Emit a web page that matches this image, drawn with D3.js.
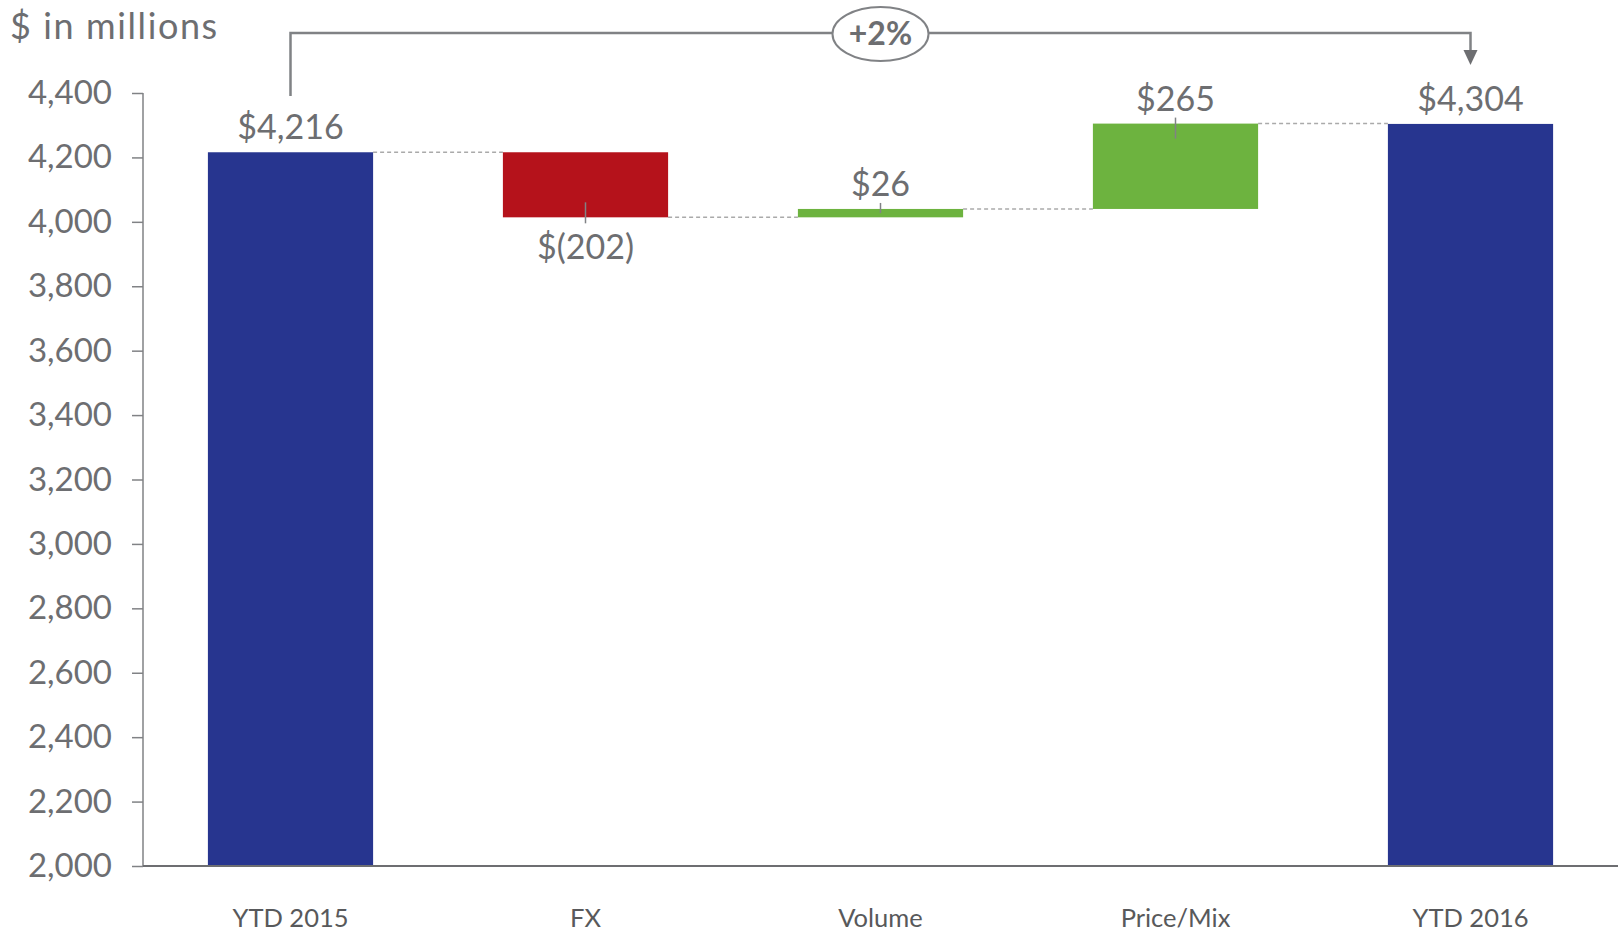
<!DOCTYPE html>
<html lang="en">
    <head>
        <meta charset="utf-8">
        <title>Waterfall</title>
        <style>
          body { margin: 0; background: #fff; }
          svg text { font-family: Lato, "Open Sans", sans-serif; fill: #6d6e71; }
          .tick text { font-size: 33px; }
          .cat { font-size: 25.5px; fill: #58595b; }
          .val { font-size: 34px; text-anchor: middle; }
          .unit { font-size: 36px; letter-spacing: 1.6px; }
          .conn { stroke: #aaa; stroke-width: 1.5; stroke-dasharray: 4,3; }
          .lead { stroke: #808285; stroke-width: 1.5; }
          .bracket { fill: none; stroke: #808285; stroke-width: 2.5; }
        </style>
        <script src="https://d3js.org/d3.v7.min.js"></script>
    </head>
    <body>
        <script type="text/javascript">
          // data
          var categories = ["YTD 2015", "FX", "Volume", "Price/Mix", "YTD 2016"];
          var values = [4216, -202, 26, 265, 4304];
          var isTotal = [true, false, false, false, true];
          var valueLabels = ["$4,216", "$(202)", "$26", "$265", "$4,304"];
          var yTicks = [2000, 2200, 2400, 2600, 2800, 3000, 3200, 3400, 3600, 3800, 4000, 4200, 4400];
          var changeLabel = "+2%";
          var unitLabel = "$ in millions";

          var colTotal = "#27358f", colUp = "#6db33f", colDown = "#b5121b";

          var w = 1624, h = 937;
          var svg = d3.select("body").append("svg")
            .attr("width", w)
            .attr("height", h);

          var x = d3.scaleBand()
            .domain(categories)
            .range([143, 1618])
            .paddingInner(0.44)
            .paddingOuter(0.22);

          var y = d3.scaleLinear()
            .domain([2000, 4400])
            .range([866, 93]);

          // build bar extents
          var bars = [];
          var running = 0;
          for (var i = 0; i < categories.length; i++) {
            var b = { cat: categories[i], label: valueLabels[i], total: isTotal[i], v: values[i] };
            if (b.total) {
              b.start = y.domain()[0];
              b.end = values[i];
              running = values[i];
            } else {
              b.start = running;
              b.end = running + values[i];
              running = b.end;
            }
            b.lo = Math.min(b.start, b.end);
            b.hi = Math.max(b.start, b.end);
            bars.push(b);
          }

          // unit label
          svg.append("text")
            .attr("class", "unit")
            .attr("x", 10)
            .attr("y", 39)
            .text(unitLabel);

          // y axis
          var yAxis = svg.append("g")
            .attr("transform", "translate(143,0)")
            .call(d3.axisLeft(y).tickValues(yTicks).tickFormat(d3.format(",")).tickSize(11).tickPadding(20));
          yAxis.selectAll("path, line").attr("stroke", "#808285").attr("stroke-width", 1.5);
          yAxis.select(".domain").attr("d", "M0," + y(4400) + "V" + y(2000));

          // connectors
          for (var i = 0; i < bars.length - 1; i++) {
            svg.append("line")
              .attr("class", "conn")
              .attr("x1", x(bars[i].cat) + x.bandwidth())
              .attr("x2", x(bars[i + 1].cat))
              .attr("y1", y(bars[i].end))
              .attr("y2", y(bars[i].end));
          }

          // bars
          svg.selectAll(".bar")
            .data(bars)
            .enter().append("rect")
            .attr("class", "bar")
            .attr("x", function(d) { return x(d.cat); })
            .attr("width", x.bandwidth())
            .attr("y", function(d) { return y(d.hi); })
            .attr("height", function(d) { return y(d.lo) - y(d.hi); })
            .attr("fill", function(d) { return d.total ? colTotal : (d.v < 0 ? colDown : colUp); });

          // x axis line
          svg.append("line")
            .attr("x1", 143).attr("x2", 1618)
            .attr("y1", y(2000)).attr("y2", y(2000))
            .attr("stroke", "#6d6e71").attr("stroke-width", 2.2);

          // category labels
          svg.selectAll(".cat")
            .data(bars)
            .enter().append("text")
            .attr("class", "cat")
            .attr("text-anchor", "middle")
            .attr("x", function(d) { return x(d.cat) + x.bandwidth() / 2; })
            .attr("y", 927)
            .text(function(d) { return d.cat; });

          // leader lines on delta bars
          bars.forEach(function(d) {
            if (d.total) return;
            var cx = x(d.cat) + x.bandwidth() / 2;
            var hgt = y(d.lo) - y(d.hi);
            var inward = Math.min(15, hgt / 2);
            if (d.v < 0) {
              svg.append("line").attr("class", "lead")
                .attr("x1", cx).attr("x2", cx)
                .attr("y1", y(d.lo) - inward).attr("y2", y(d.lo) + 6);
            } else {
              svg.append("line").attr("class", "lead")
                .attr("x1", cx).attr("x2", cx)
                .attr("y1", y(d.hi) - 6).attr("y2", y(d.hi) + inward);
            }
          });

          // value labels
          svg.selectAll(".val")
            .data(bars)
            .enter().append("text")
            .attr("class", "val")
            .attr("x", function(d) { return x(d.cat) + x.bandwidth() / 2; })
            .attr("y", function(d) { return d.v < 0 ? y(d.lo) + 42 : y(d.hi) - 13; })
            .text(function(d) { return d.label; });

          // change bracket
          var x0 = x(categories[0]) + x.bandwidth() / 2;
          var x1 = x(categories[categories.length - 1]) + x.bandwidth() / 2;
          var by = 33;
          svg.append("path")
            .attr("class", "bracket")
            .attr("d", "M" + x0 + ",96V" + by + "H" + x1 + "V52");
          svg.append("path")
            .attr("d", "M" + (x1 - 7) + ",50L" + (x1 + 7) + ",50L" + x1 + ",65Z")
            .attr("fill", "#6d6e71");
          var ex = x(categories[2]) + x.bandwidth() / 2;
          svg.append("ellipse")
            .attr("cx", ex).attr("cy", 34)
            .attr("rx", 48).attr("ry", 27)
            .attr("fill", "#fff")
            .attr("stroke", "#808285")
            .attr("stroke-width", 2);
          svg.append("text")
            .attr("x", ex).attr("y", 45)
            .attr("text-anchor", "middle")
            .attr("font-size", 32)
            .attr("font-weight", "bold")
            .text(changeLabel);
        </script>
    </body>
</html>
